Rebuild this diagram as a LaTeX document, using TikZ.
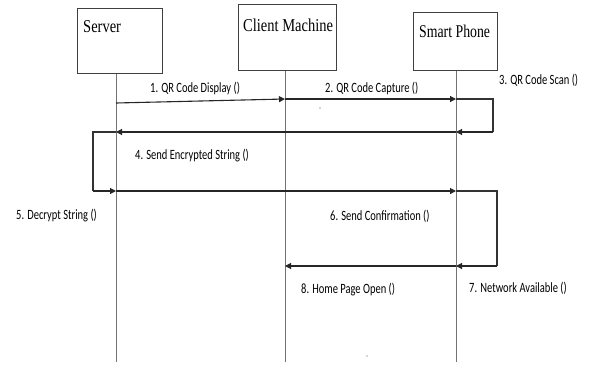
\documentclass[tikz,border=0pt]{standalone}
\usepackage{fontspec}
\setmainfont{Liberation Serif}
\newfontfamily\lblfont{Carlito}
\usetikzlibrary{arrows.meta}
\begin{document}
\begin{tikzpicture}[x=1pt,y=-1pt,
  actor/.style={draw=black!75, line width=0.9pt, fill=white, inner sep=0pt, anchor=north west},
  lifeline/.style={draw=black!55, line width=0.9pt},
  msg/.style={draw=black!85, line width=1.1pt, -{Triangle[length=6pt,width=6pt]}},
  seg/.style={draw=black!80, line width=1.1pt},
  lbl/.style={font=\lblfont\fontsize{10.5}{12}\selectfont, anchor=west, inner sep=0pt},
  ttl/.style={font=\fontsize{14.5}{16}\selectfont, anchor=west, inner sep=0pt}]
\useasboundingbox (0,0) rectangle (592,389);
% actor boxes
\node[actor, minimum width=85pt, minimum height=65pt] (server) at (77,8) {};
\node[actor, minimum width=98pt, minimum height=66pt] (client) at (238,4) {};
\node[actor, minimum width=84pt, minimum height=58pt] (phone) at (413,12) {};
\node[ttl] (servertxt) at (83,27) {\scalebox{1}[1.25]{Server}};
\node[ttl] (clienttxt) at (243,25) {\scalebox{1}[1.25]{Client Machine}};
\node[ttl, font=\fontsize{13.8}{16}\selectfont] (phonetxt) at (419,31) {\scalebox{1}[1.3]{Smart Phone}};
% lifeline ends
\coordinate (svend) at (116,362);
\coordinate (clend) at (285,362);
\coordinate (phend) at (456,362);
\draw[lifeline] (server.south -| svend) -- (svend);
\draw[lifeline] (client.south -| clend) -- (clend);
\draw[lifeline] (phone.south -| phend) -- (phend);
% message points
\coordinate (sv1) at (116,103);
\coordinate (cl1) at (285,99);
\coordinate (ph1) at (456,99);
\coordinate (lp1a) at (493,99);
\coordinate (lp1b) at (493,132);
\coordinate (ph2) at (456,132);
\coordinate (sv2) at (116,132);
\coordinate (lp2a) at (93,132);
\coordinate (lp2b) at (93,191);
\coordinate (sv3) at (116,191);
\coordinate (ph3) at (456,191);
\coordinate (lp3a) at (497,191);
\coordinate (lp3b) at (497,266);
\coordinate (ph4) at (456,266);
\coordinate (cl4) at (285,266);
% messages
\draw[msg] (sv1) -- (cl1);
\draw[msg] (cl1) -- (ph1);
\draw[seg] (ph1) -- (lp1a) -- (lp1b);
\draw[msg] (lp1b) -- (ph2);
\draw[msg] (ph2) -- (sv2);
\draw[seg] (sv2) -- (lp2a) -- (lp2b);
\draw[msg] (lp2b) -- (sv3);
\draw[msg] (sv3) -- (ph3);
\draw[seg] (ph3) -- (lp3a) -- (lp3b);
\draw[msg] (lp3b) -- (ph4);
\draw[msg] (ph4) -- (cl4);
% labels
\node[lbl] (l1) at (150,88) {\scalebox{1}[1.35]{1. QR Code Display ()}};
\node[lbl] (l2) at (325,88) {\scalebox{1}[1.35]{2. QR Code Capture ()}};
\node[lbl] (l3) at (499,80) {\scalebox{1}[1.35]{3. QR Code Scan ()}};
\node[lbl] (l4) at (135,156) {\scalebox{1}[1.35]{4. Send Encrypted String ()}};
\node[lbl] (l5) at (16,216) {\scalebox{1}[1.35]{5. Decrypt String ()}};
\node[lbl] (l6) at (330,216) {\scalebox{1}[1.35]{6. Send Confirmation ()}};
\node[lbl] (l8) at (301,290) {\scalebox{1}[1.35]{8. Home Page Open ()}};
\node[lbl] (l7) at (469,288) {\scalebox{1}[1.35]{7. Network Available ()}};
% stray marks
\fill[black!70] (320,108) circle (0.6pt);
\fill[black!70] (367,356) circle (0.7pt);
\end{tikzpicture}
\end{document}
